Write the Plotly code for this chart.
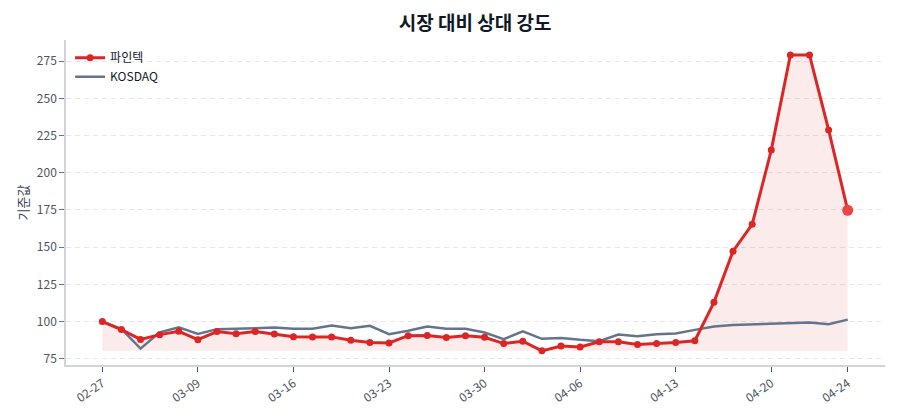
import plotly.graph_objects as go

dates = ["02-27", "03-03", "03-04", "03-05", "03-06",
         "03-09", "03-10", "03-11", "03-12", "03-13",
         "03-16", "03-17", "03-18", "03-19", "03-20",
         "03-23", "03-24", "03-25", "03-26", "03-27",
         "03-30", "03-31", "04-01", "04-02", "04-03",
         "04-06", "04-07", "04-08", "04-09", "04-10",
         "04-13", "04-14", "04-15", "04-16", "04-17",
         "04-20", "04-21", "04-22", "04-23", "04-24"]

stock = [100.0, 94.6, 88.0, 91.2, 93.4,
         87.8, 93.3, 91.8, 93.3, 91.7,
         89.8, 89.7, 89.7, 87.5, 86.0,
         85.6, 90.5, 90.7, 89.3, 90.4,
         89.4, 85.2, 86.8, 80.3, 83.5,
         82.9, 86.4, 86.4, 84.6, 85.3,
         85.9, 87.1, 112.9, 147.3, 165.3,
         215.2, 279.2, 279.2, 228.8, 174.8]

kosdaq = [100.0, 95.0, 81.8, 92.7, 96.2,
          91.7, 94.9, 95.0, 95.5, 96.0,
          95.1, 95.1, 97.3, 95.5, 97.1,
          91.5, 93.8, 96.7, 95.1, 95.2,
          92.6, 88.2, 93.4, 88.4, 89.0,
          87.7, 86.8, 91.3, 90.1, 91.4,
          92.0, 94.4, 96.7, 97.7, 98.2,
          98.7, 99.1, 99.3, 98.2, 101.3]

tick_labels = ["02-27", "03-09", "03-16", "03-23", "03-30",
               "04-06", "04-13", "04-20", "04-24"]

stock_name = "파인텍"
index_name = "KOSDAQ"
title_text = "시장 대비 상대 강도"
y_title = "기준값"

RED = "#dc2626"
SLATE = "#64748b"
FONT = "Noto Sans CJK KR, Noto Sans, sans-serif"

base = min(stock)

fig = go.Figure()
# baseline for the fill
fig.add_trace(go.Scatter(x=dates, y=[base] * len(dates), mode="lines",
                         line=dict(width=0, color="rgba(0,0,0,0)"),
                         showlegend=False, hoverinfo="skip"))
fig.add_trace(go.Scatter(x=dates, y=stock, mode="lines",
                         line=dict(width=0, color="rgba(0,0,0,0)"),
                         fill="tonexty", fillcolor="rgba(220,38,38,0.09)",
                         showlegend=False, hoverinfo="skip"))
fig.add_trace(go.Scatter(x=dates, y=kosdaq, mode="lines", name=index_name,
                         line=dict(color=SLATE, width=2.5)))
fig.add_trace(go.Scatter(x=dates, y=stock, mode="lines+markers", name=stock_name,
                         line=dict(color=RED, width=3),
                         marker=dict(color=RED, size=7)))
fig.add_trace(go.Scatter(x=[dates[-1]], y=[stock[-1]], mode="markers",
                         marker=dict(color="#ef4444", size=11),
                         showlegend=False))

fig.update_layout(
    width=900, height=420,
    margin=dict(l=66, r=15, t=40, b=55),
    paper_bgcolor="white", plot_bgcolor="white",
    font=dict(family=FONT, size=12, color="#4b5563"),
    title=dict(text="<b>" + title_text + "</b>", x=0.528, xanchor="center",
               y=0.945, yanchor="middle",
               font=dict(size=19, color="#111827", family=FONT)),
    legend=dict(x=0.005, y=0.99, xanchor="left", yanchor="top",
                bgcolor="rgba(255,255,255,0)", traceorder="reversed",
                font=dict(size=12, color="#111827"), itemwidth=30,
                tracegroupgap=2),
    showlegend=True,
)

fig.update_xaxes(
    type="category", range=[-1.9, 40.95],
    tickmode="array", tickvals=tick_labels, ticktext=tick_labels,
    tickangle=-35, ticks="outside", ticklen=5, tickcolor="#4b5563",
    showline=True, linecolor="#d1d5db", linewidth=1.5,
    showgrid=False, zeroline=False,
    tickfont=dict(size=12, color="#4b5563"),
)
fig.update_yaxes(
    range=[70.8, 289.2], tick0=75, dtick=25,
    ticks="outside", ticklen=5, tickcolor="#6b7280",
    showline=True, linecolor="#d1d5db", linewidth=1.5,
    showgrid=True, gridcolor="#e5e7eb", griddash="5px,4px", gridwidth=1,
    zeroline=False,
    title=dict(text=y_title, font=dict(size=13, color="#374151"), standoff=5),
    tickfont=dict(size=12, color="#4b5563"),
)

fig.write_html("out.html")
